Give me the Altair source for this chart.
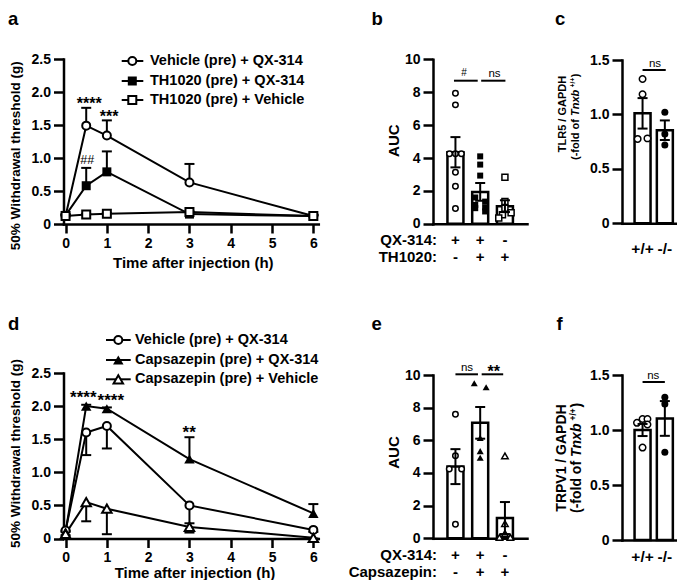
import altair as alt
import pandas as pd

FONT = "Liberation Sans"
W, H = 669, 572
M = 8  # page margin


def X(p):
    return p - M


def Y(p):
    return p - M


BLANK = pd.DataFrame({"k": [0]})

# ---------------- data: time courses (panels a, d) ----------------
times = [0, 0.5, 1, 3, 6]

a_labels = ["Vehicle (pre) + QX-314", "TH1020 (pre) + QX-314", "TH1020 (pre) + Vehicle"]
a_veh_qx = [0.12, 1.49, 1.34, 0.63, 0.12]
a_veh_qx_sem = [0.02, 0.27, 0.23, 0.28, 0.02]
a_th_qx = [0.13, 0.58, 0.79, 0.15, 0.12]
a_th_qx_sem = [0.02, 0.27, 0.31, 0.03, 0.02]
a_th_veh = [0.12, 0.145, 0.155, 0.18, 0.12]
a_th_veh_sem = [0.01, 0.01, 0.01, 0.01, 0.01]

d_labels = ["Vehicle (pre) + QX-314", "Capsazepin (pre) + QX-314", "Capsazepin (pre) + Vehicle"]
d_veh_qx = [0.12, 1.60, 1.70, 0.50, 0.13]
d_veh_qx_sem = [0.02, 0.34, 0.34, 0.27, 0.03]
d_cap_qx = [0.10, 2.00, 1.96, 1.20, 0.38]
d_cap_qx_sem = [0.02, 0.02, 0.02, 0.33, 0.14]
d_cap_veh = [0.07, 0.55, 0.45, 0.175, 0.01]
d_cap_veh_sem = [0.02, 0.29, 0.385, 0.085, 0.01]

time_ticks = [0, 1, 2, 3, 4, 5, 6]
thr_ticks = [0, 0.5, 1.0, 1.5, 2.0, 2.5]

# ---------------- data: AUC (panels b, e) ----------------
b_means = [4.35, 1.94, 1.07]
b_sem = [0.92, 0.54, 0.36]
b_veh_pts = [7.94, 7.23, 4.26, 4.26, 4.26, 3.13, 2.28, 0.93]
b_veh_jit = [0, 0, -0.24, 0, 0.24, 0, 0, 0]
b_th_pts = [4.10, 3.60, 2.93, 1.60, 1.35, 1.15, 1.00, 0.95, 0.75]
b_th_jit = [0, 0, 0, -0.2, 0.2, -0.2, 0.2, -0.2, 0.2]
b_thv_pts = [2.83, 1.35, 0.95, 0.67, 0.55, 0.36]
b_thv_jit = [0, 0, 0, 0.25, -0.1, -0.25]
b_row_qx = ["+", "+", "-"]
b_row_th = ["-", "+", "+"]

e_means = [4.39, 7.07, 1.24]
e_sem = [1.07, 0.97, 0.98]
e_veh_pts = [7.60, 5.05, 4.25, 4.25, 0.86]
e_veh_jit = [0, 0, -0.25, 0.25, 0]
e_cap_pts = [9.49, 9.25, 6.15, 5.34, 4.93]
e_cap_jit = [-0.24, 0.24, 0, 0, 0]
e_capv_pts = [5.05, 0.90, 0.30, 0.06, 0.06]
e_capv_jit = [0, 0, 0, -0.22, 0.22]
e_row_qx = ["+", "+", "-"]
e_row_cap = ["-", "+", "+"]

auc_ticks = [0, 2, 4, 6, 8, 10]

# ---------------- data: expression (panels c, f) ----------------
genotypes = ["+/+", "-/-"]
c_means = [1.01, 0.855]
c_sem = [0.14, 0.09]
c_wt_pts = [1.325, 1.185, 0.775, 0.78]
c_wt_jit = [0, 0, -0.22, 0.22]
c_ko_pts = [1.02, 0.82, 0.72]
c_ko_jit = [0, 0, 0]

f_means = [1.0, 1.105]
f_sem = [0.055, 0.158]
f_wt_pts = [1.065, 1.10, 1.10, 1.05, 0.84]
f_wt_jit = [-0.25, 0, 0.22, 0.22, 0]
f_ko_pts = [1.297, 1.236, 0.797]
f_ko_jit = [0, 0, 0]

fold_ticks = [0, 0.5, 1.0, 1.5]

DEC_EXPR = "datum.value == 0 ? '0' : format(datum.value, '.1f')"


# ---------------- helpers ----------------
def lin(domain, rng):
    return alt.Scale(domain=domain, range=rng, nice=False, zero=False)


def yaxis(values, left_px, expr=None):
    kw = dict(orient="left", offset=-X(left_px), values=values, title=None,
              tickSize=10, labelPadding=3)
    if expr:
        kw["labelExpr"] = expr
    return alt.Axis(**kw)


def xaxis_time(bottom_py):
    return alt.Axis(orient="bottom", offset=Y(bottom_py) - H, values=time_ticks,
                    title=None, tickSize=9, labelPadding=3, format="d")


def xaxis_plain(bottom_py):
    return alt.Axis(orient="bottom", offset=Y(bottom_py) - H, ticks=False,
                    labels=False, title=None)


def txt(s, x, y, size=14, bold=True, align="center", baseline="middle",
        angle=None, italic=False):
    kw = dict(text=s, fontSize=size, fontWeight="bold" if bold else "normal",
              align=align, baseline=baseline, font=FONT, color="black")
    if angle is not None:
        kw["angle"] = angle
    if italic:
        kw["fontStyle"] = "italic"
    return alt.Chart(BLANK).mark_text(**kw).encode(x=alt.value(X(x)), y=alt.value(Y(y)))


def point_mark(shape, filled, size, sw=2):
    if filled:
        return dict(shape=shape, size=size, filled=True, color="black", opacity=1)
    return dict(shape=shape, size=size, filled=True, fill="white", stroke="black",
                strokeWidth=sw, opacity=1, fillOpacity=1, strokeOpacity=1)


def time_panel(series, xs, ys, ax_x, ax_y):
    def ex(f):
        return alt.X(f, scale=xs, axis=ax_x)

    def ey(f):
        return alt.Y(f, scale=ys, axis=ax_y)

    layers = []
    for s in series:
        df = pd.DataFrame({"t": times, "v": s["v"], "sem": s["sem"]})
        df["end"] = df["v"] + s["dir"] * df["sem"]
        s["df"] = df
    for s in series:
        layers.append(alt.Chart(s["df"]).mark_line(color="black", strokeWidth=2).encode(
            x=ex("t:Q"), y=ey("v:Q")))
    for s in series:
        base = alt.Chart(s["df"])
        layers.append(base.mark_rule(color="black", strokeWidth=2).encode(
            x=ex("t:Q"), y=ey("v:Q"), y2="end:Q"))
        layers.append(base.mark_tick(orient="horizontal", size=10, thickness=2,
                                     color="black", opacity=1).encode(
            x=ex("t:Q"), y=ey("end:Q")))
    for s in series:
        layers.append(alt.Chart(s["df"]).mark_point(**point_mark(s["shape"], s["filled"], s["size"])).encode(
            x=ex("t:Q"), y=ey("v:Q")))
    return alt.layer(*layers)


def bar_panel(means, sems, groups, xs, ys, ax_x, ax_y, brackets, table_rows, bar_w=16):
    def ex(f):
        return alt.X(f, scale=xs, axis=ax_x)

    def ey(f):
        return alt.Y(f, scale=ys, axis=ax_y)

    n = len(means)
    bdf = pd.DataFrame({"i": list(range(n)), "m": means, "s": sems})
    bdf["lo"] = bdf["m"] - bdf["s"]
    bdf["hi"] = bdf["m"] + bdf["s"]
    layers = [alt.Chart(bdf).mark_bar(width=bar_w, fill="white", stroke="black",
                                      strokeWidth=2.5, orient="vertical").encode(
        x=ex("i:Q"), y=ey("m:Q"))]
    for g, (vals, jit, shape, filled, size) in enumerate(groups):
        pdf = pd.DataFrame({"x": [g + j for j in jit], "v": vals})
        layers.append(alt.Chart(pdf).mark_point(**point_mark(shape, filled, size, sw=1.5)).encode(
            x=ex("x:Q"), y=ey("v:Q")))
    layers.append(alt.Chart(bdf).mark_rule(color="black", strokeWidth=2).encode(
        x=ex("i:Q"), y=ey("lo:Q"), y2="hi:Q"))
    for f in ["lo", "hi"]:
        layers.append(alt.Chart(bdf).mark_tick(orient="horizontal", size=10, thickness=2,
                                               color="black", opacity=1).encode(
            x=ex("i:Q"), y=ey(f"{f}:Q")))
    for (x0, x1, yy) in brackets:
        bdf2 = pd.DataFrame({"a": [x0], "b": [x1]})
        layers.append(alt.Chart(bdf2).mark_rule(color="black", strokeWidth=2).encode(
            x=ex("a:Q"), x2="b:Q", y=alt.value(Y(yy))))
    for (labels, yy, fs) in table_rows:
        tdf = pd.DataFrame({"i": list(range(len(labels))), "t": labels})
        layers.append(alt.Chart(tdf).mark_text(font=FONT, fontSize=fs, fontWeight="bold",
                                               baseline="middle", color="black").encode(
            x=ex("i:Q"), y=alt.value(Y(yy)), text="t:N"))
    return alt.layer(*layers)


def legend(labels, shapes, rows_y, x0, x1, xm, xt, fs=14.5):
    out = []
    for lab, (shape, filled, size), yy in zip(labels, shapes, rows_y):
        out.append(alt.Chart(BLANK).mark_rule(color="black", strokeWidth=2).encode(
            x=alt.value(X(x0)), x2=alt.value(X(x1)), y=alt.value(Y(yy))))
        out.append(alt.Chart(BLANK).mark_point(**point_mark(shape, filled, size)).encode(
            x=alt.value(X(xm)), y=alt.value(Y(yy))))
        out.append(txt(lab, xt, yy, size=fs, align="left"))
    return out


def fold_title(line1, x1, y1, x2, ystart, fs):
    """Two-line rotated y title; second line has italic gene name and superscript."""
    out = [txt(line1, x1, y1, size=fs, angle=270)]
    sfs = fs * 0.6
    # (text, advance width in px, font size, italic, perpendicular shift)
    pieces = [("(-fold of", 3.721 * fs, fs, False, 0.0),
              ("Tnxb", 2.389 * fs, fs, True, 0.0),
              ("+/+", 1.446 * sfs, sfs, False, -0.3 * fs),
              (")", 0.333 * fs, fs, False, 0.0)]
    gaps = [0.28 * fs, 0.22 * fs, 0.05 * fs, 0]
    y = ystart
    for (s, w, size, ital, dxp), g in zip(pieces, gaps):
        out.append(txt(s, x2 + dxp, y - w / 2, size=size, angle=270, italic=ital))
        y -= w + g
    return out


# ---------------- scales ----------------
x_time_a = lin([-0.05, 6.12], [X(63.5), X(318.3)])
y_a = lin([0, 2.5], [Y(224), Y(59)])
x_time_d = lin([-0.05, 6.12], [X(63.5), X(318.3)])
y_d = lin([0, 2.5], [Y(538.5), Y(373)])

x_b = lin([-0.705, 2.69], [X(433), X(527)])
y_b = lin([0, 10], [Y(223.8), Y(59.3)])
x_e = lin([-0.705, 2.69], [X(433), X(527)])
y_e = lin([0, 10], [Y(538.3), Y(375)])

x_c = lin([-0.698, 1.68], [X(622), X(685)])
y_c = lin([0, 1.5], [Y(223.3), Y(60)])
x_f = lin([-0.698, 1.68], [X(622), X(685)])
y_f = lin([0, 1.5], [Y(540), Y(375)])

# ---------------- panels ----------------
a_series = [
    dict(v=a_veh_qx, sem=a_veh_qx_sem, dir=1, shape="circle", filled=False, size=64),
    dict(v=a_th_qx, sem=a_th_qx_sem, dir=1, shape="square", filled=True, size=81),
    dict(v=a_th_veh, sem=a_th_veh_sem, dir=1, shape="square", filled=False, size=64),
]
d_series = [
    dict(v=d_veh_qx, sem=d_veh_qx_sem, dir=-1, shape="circle", filled=False, size=64),
    dict(v=d_cap_qx, sem=d_cap_qx_sem, dir=1, shape="triangle-up", filled=True, size=110),
    dict(v=d_cap_veh, sem=d_cap_veh_sem, dir=-1, shape="triangle-up", filled=False, size=90),
]

panel_a = time_panel(a_series, x_time_a, y_a, xaxis_time(224), yaxis(thr_ticks, 63.5, DEC_EXPR))
panel_d = time_panel(d_series, x_time_d, y_d, xaxis_time(538.5), yaxis(thr_ticks, 63.5, DEC_EXPR))

panel_b = bar_panel(
    b_means, b_sem,
    [(b_veh_pts, b_veh_jit, "circle", False, 30),
     (b_th_pts, b_th_jit, "square", True, 36),
     (b_thv_pts, b_thv_jit, "square", False, 36)],
    x_b, y_b, xaxis_plain(223.8), yaxis(auc_ticks, 433),
    brackets=[(-0.06, 0.9, 80.7), (1.04, 2.02, 80.7)],
    table_rows=[(b_row_qx, 239.5, 15), (b_row_th, 256.5, 15)])

panel_e = bar_panel(
    e_means, e_sem,
    [(e_veh_pts, e_veh_jit, "circle", False, 30),
     (e_cap_pts, e_cap_jit, "triangle-up", True, 49),
     (e_capv_pts, e_capv_jit, "triangle-up", False, 42)],
    x_e, y_e, xaxis_plain(538.3), yaxis(auc_ticks, 433),
    brackets=[(0.0, 0.91, 374.3), (1.06, 1.93, 374.3)],
    table_rows=[(e_row_qx, 555, 15), (e_row_cap, 571.5, 15)])

panel_c = bar_panel(
    c_means, c_sem,
    [(c_wt_pts, c_wt_jit, "circle", False, 42),
     (c_ko_pts, c_ko_jit, "circle", True, 49)],
    x_c, y_c, xaxis_plain(223.3), yaxis(fold_ticks, 622, DEC_EXPR),
    brackets=[(0.0, 1.04, 70)],
    table_rows=[(genotypes, 248.5, 15.5)])

panel_f = bar_panel(
    f_means, f_sem,
    [(f_wt_pts, f_wt_jit, "circle", False, 42),
     (f_ko_pts, f_ko_jit, "circle", True, 49)],
    x_f, y_f, xaxis_plain(540), yaxis(fold_ticks, 622, DEC_EXPR),
    brackets=[(0.0, 1.0, 382)],
    table_rows=[(genotypes, 557, 15.5)])

# ---------------- annotations ----------------
notes = []
for letter, x, y in [("a", 8, 25), ("b", 371.5, 25), ("c", 555, 25),
                     ("d", 8, 330), ("e", 371.5, 330), ("f", 556.5, 330)]:
    notes.append(txt(letter, x, y, size=18.5, align="left", baseline="alphabetic"))

notes.append(txt("50% Withdrawal threshold (g)", 15.5, 155.8, size=13.5, angle=270))
notes.append(txt("50% Withdrawal threshold (g)", 15.5, 453.5, size=13.5, angle=270))
notes.append(txt("Time after injection (h)", 193.3, 263, size=15))
notes.append(txt("Time after injection (h)", 195, 573, size=15))
notes.append(txt("AUC", 394, 140.7, size=15, angle=270))
notes.append(txt("AUC", 394, 452.5, size=15, angle=270))
notes += fold_title("TLR5 / GAPDH", 562.5, 114, 576, 160, 11)
notes += fold_title("TRPV1 / GAPDH", 561.7, 458, 576.7, 513, 14)

notes.append(txt("QX-314:", 437, 239.5, size=15, align="right"))
notes.append(txt("TH1020:", 437, 256.5, size=15, align="right"))
notes.append(txt("QX-314:", 437, 555, size=15, align="right"))
notes.append(txt("Capsazepin:", 437, 571.5, size=15, align="right"))

notes.append(txt("****", 89.2, 100 + 4, size=16))
notes.append(txt("***", 109.2, 112.8 + 4, size=16))
notes.append(txt("##", 87.2, 160, size=12.5, bold=False))
notes.append(txt("****", 83.3, 393.3 + 4.4, size=17))
notes.append(txt("****", 110.8, 396.7 + 4.4, size=17))
notes.append(txt("**", 189.2, 428.3 + 4.4, size=17))
notes.append(txt("#", 464, 73, size=10, bold=False))
notes.append(txt("ns", 494.5, 74, size=11.5, bold=False))
notes.append(txt("ns", 467, 368, size=11.5, bold=False))
notes.append(txt("**", 493.7, 368 + 4, size=16))
notes.append(txt("ns", 655, 64.3, size=11.5, bold=False))
notes.append(txt("ns", 653.3, 376, size=11.5, bold=False))

notes += legend(a_labels, [("circle", False, 64), ("square", True, 81), ("square", False, 64)],
                [61, 81, 100], 121.7, 143.3, 132.3, 150)
notes += legend(d_labels, [("circle", False, 64), ("triangle-up", True, 110), ("triangle-up", False, 90)],
                [340, 360, 379.3], 106, 130.7, 118.3, 135)

chart = alt.layer(
    panel_a, panel_b, panel_c, panel_d, panel_e, panel_f, *notes
).resolve_scale(
    x="independent", y="independent"
).resolve_axis(
    x="independent", y="independent"
).properties(
    width=W, height=H, padding=0,
    autosize=alt.AutoSizeParams(type="none"),
).configure_view(
    stroke=None
).configure_axis(
    domainColor="black", domainWidth=2.5, domainCap="square",
    tickColor="black", tickWidth=2.5,
    labelFont=FONT, labelFontSize=14, labelFontWeight="bold", labelColor="black",
    grid=False,
)

chart.save("out.html", embed_options={"renderer": "svg", "actions": False})
